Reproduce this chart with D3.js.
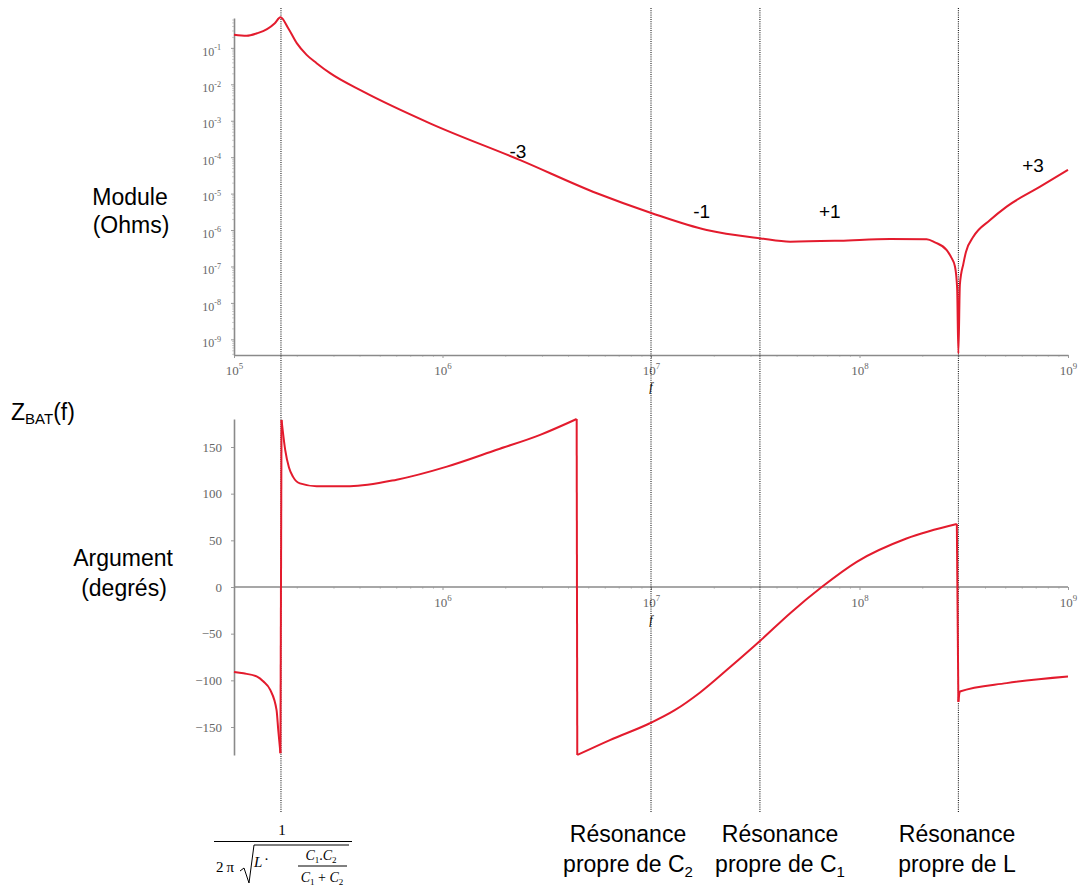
<!DOCTYPE html>
<html lang="fr">
<head>
	<meta charset="UTF-8">
	<title>Z_BAT(f) : module et argument</title>
	<script src="https://cdn.jsdelivr.net/npm/d3@7/dist/d3.min.js"></script>
	<style>
		body { margin: 0; background: #fff; }
		.lbl { font-family: Arial, "Liberation Sans", sans-serif; fill: #000; }
		.math { font-family: "Liberation Serif", "Times New Roman", serif; fill: #000; }
		.axis path { stroke: #8a8a8a; stroke-width: 1.6; fill: none; }
		.axis line { stroke: #9a9a9a; }
		.minor line { stroke: #d0d0d0; }
		.minor path { display: none; }
		.axis text { font-family: "Liberation Serif", "Times New Roman", serif; fill: #666; }
	</style>
</head>
<body>
	<div id="container"></div>
	<script>
		// module |Z| (ohms) vs frequency (Hz)
		var modFreq = [1.00e5, 1.15e5, 1.29e5, 1.44e5, 1.57e5, 1.67e5, 1.82e5, 2.00e5, 2.23e5, 2.49e5,
			2.89e5, 4.17e5, 8.71e5, 2.36e6, 5.50e6, 1.01e7, 1.85e7, 3.36e7, 4.65e7, 8.05e7,
			1.40e8, 2.10e8, 2.30e8, 2.62e8, 2.75e8, 2.87e8, 2.94e8, 2.98e8, 3.03e8, 3.15e8,
			3.24e8, 3.52e8, 4.23e8, 5.08e8, 7.35e8, 1.00e9];
		var modOhm = [0.229, 0.214, 0.251, 0.327, 0.477, 0.692, 0.347, 0.135, 0.0643, 0.038,
			0.0202, 6.3e-3, 8.5e-4, 8.3e-5, 1.02e-5, 2.9e-6, 1.0e-6, 5.9e-7, 4.8e-7, 5.1e-7,
			5.7e-7, 5.6e-7, 4.6e-7, 2.8e-7, 1.8e-7, 1.0e-7, 2.5e-8, 4.1e-10, 3.2e-8, 1.2e-7,
			2.5e-7, 6.6e-7, 1.88e-6, 4.4e-6, 1.55e-5, 4.5e-5];

		// argument (degrees), split in branches at the +/-180 jumps
		var phaseFreq = [1.00e5, 1.11e5, 1.29e5, 1.38e5, 1.49e5, 1.60e5, 1.63e5, 1.67e5,
			1.69e5, 1.76e5, 1.835e5, 1.92e5, 2.07e5, 2.49e5, 3.60e5, 6.03e5, 1.05e6, 1.82e6, 2.94e6, 4.40e6,
			4.43e6, 6.35e6, 9.88e6, 1.30e7, 1.72e7, 2.39e7, 3.36e7, 4.65e7, 6.59e7, 9.70e7, 1.68e8, 2.93e8,
			2.98e8, 3.03e8, 5.08e8, 1.00e9];
		var phaseDeg = [-91, -92.5, -96, -101, -110, -132, -153, -178,
			179, 147, 128, 118, 111, 108, 108, 115, 129, 147, 163, 180,
			-180, -164, -146, -132, -113, -86, -57, -28, 0, 27, 52, 67.5,
			-123, -112, -103, -96];
		var phaseBranch = [0, 0, 0, 0, 0, 0, 0, 0,
			1, 1, 1, 1, 1, 1, 1, 1, 1, 1, 1, 1,
			2, 2, 2, 2, 2, 2, 2, 2, 2, 2, 2, 2,
			3, 3, 3, 3];

		// resonance frequencies (dotted lines)
		var markerFreq = [1.68e5, 1.0e7, 3.33e7, 2.98e8];

		// slope annotations on the module curve
		var slopeText = ["-3", "-1", "+1", "+3"];
		var slopeFreq = [2.3e6, 1.75e7, 7.2e7, 6.8e8];
		var slopeOhm = [9.5e-5, 2.1e-6, 2.1e-6, 4.0e-5];

		var freqTicks = [1e5, 1e6, 1e7, 1e8, 1e9];
		var modTicks = [1e-1, 1e-2, 1e-3, 1e-4, 1e-5, 1e-6, 1e-7, 1e-8, 1e-9];
		var phaseTicks = [-150, -100, -50, 0, 50, 100, 150];

		var width = 1083, height = 892;
		var svg = d3.select("#container").append("svg")
			.attr("width", width)
			.attr("height", height);

		var x = d3.scaleLog().domain([1e5, 1e9]).range([234, 1068]);
		var yMod = d3.scaleLog().domain([Math.pow(10, -9.43), Math.pow(10, -0.18)]).range([355, 18]);
		var yPh = d3.scaleLinear().domain([-180, 180]).range([755, 419]);

		var minorFreq = [];
		for (var e = 5; e < 9; e++)
			for (var m = 2; m < 10; m++) minorFreq.push(m * Math.pow(10, e));
		var minorMod = [];
		for (var e2 = -10; e2 < 0; e2++)
			for (var m2 = 2; m2 < 10; m2++) {
				var v = m2 * Math.pow(10, e2);
				if (v > yMod.domain()[0] && v < yMod.domain()[1]) minorMod.push(v);
			}

		function powLabel(sel, size) {
			sel.selectAll(".tick text").each(function(d) {
				var t = d3.select(this).text(null).attr("font-size", size);
				t.append("tspan").text("10");
				t.append("tspan").attr("dy", -size * 0.45).attr("font-size", size * 0.68)
					.text(Math.round(Math.log10(d)));
			});
		}

		// ---- module plot ----
		svg.append("g").attr("class", "minor")
			.attr("transform", "translate(0,355)")
			.call(d3.axisBottom(x).tickValues(minorFreq).tickFormat("").tickSize(2).tickSizeOuter(0));
		svg.append("g").attr("class", "minor")
			.attr("transform", "translate(234,0)")
			.call(d3.axisLeft(yMod).tickValues(minorMod).tickFormat("").tickSize(2).tickSizeOuter(0));

		var gx1 = svg.append("g").attr("class", "axis")
			.attr("transform", "translate(0,355)")
			.call(d3.axisBottom(x).tickValues(freqTicks).tickSize(3).tickSizeOuter(0).tickPadding(8));
		powLabel(gx1, 13);

		var gy1 = svg.append("g").attr("class", "axis")
			.attr("transform", "translate(234,0)")
			.call(d3.axisLeft(yMod).tickValues(modTicks).tickSize(3).tickSizeOuter(0).tickPadding(10));
		powLabel(gy1, 12);
		gy1.selectAll(".tick text").attr("dy", "0.6em");

		svg.append("text").attr("class", "math")
			.attr("x", x(1e7)).attr("y", 391)
			.attr("text-anchor", "middle").attr("font-size", 12).attr("font-style", "italic")
			.attr("fill", "#666").text("f");

		// ---- argument plot ----
		svg.append("g").attr("class", "minor")
			.attr("transform", "translate(0," + yPh(0) + ")")
			.call(d3.axisBottom(x).tickValues(minorFreq).tickFormat("").tickSize(2).tickSizeOuter(0));

		var gx2 = svg.append("g").attr("class", "axis")
			.attr("transform", "translate(0," + yPh(0) + ")")
			.call(d3.axisBottom(x).tickValues(freqTicks.slice(1)).tickSize(3).tickSizeOuter(0).tickPadding(8));
		powLabel(gx2, 13);
		gx2.select(".domain").attr("d", "M" + x(1e5) + ",0H" + x(1e9));

		var gy2 = svg.append("g").attr("class", "axis")
			.attr("transform", "translate(234,0)")
			.call(d3.axisLeft(yPh).tickValues(phaseTicks).tickSize(3).tickSizeOuter(0).tickPadding(9));
		gy2.selectAll(".tick text").attr("font-size", 13);

		svg.append("text").attr("class", "math")
			.attr("x", x(1e7)).attr("y", 624)
			.attr("text-anchor", "middle").attr("font-size", 12).attr("font-style", "italic")
			.attr("fill", "#666").text("f");

		// ---- resonance markers ----
		svg.selectAll(".marker")
			.data(markerFreq)
			.enter().append("line")
				.attr("class", "marker")
				.attr("x1", function(d) { return x(d); })
				.attr("x2", function(d) { return x(d); })
				.attr("y1", 8)
				.attr("y2", 813)
				.attr("stroke", "#000")
				.attr("stroke-width", 1)
				.attr("stroke-dasharray", "1,1.2");

		// ---- curves ----
		var red = "#e31b2d";
		var modData = modFreq.map(function(f, i) { return [f, modOhm[i]]; });
		var modLine = d3.line()
			.x(function(d) { return x(d[0]); })
			.y(function(d) { return yMod(d[1]); })
			.curve(d3.curveMonotoneX);
		svg.append("path")
			.datum(modData)
			.attr("d", modLine)
			.attr("fill", "none")
			.attr("stroke", red)
			.attr("stroke-width", 2);

		var phData = phaseFreq.map(function(f, i) { return { f: f, v: phaseDeg[i], b: phaseBranch[i] }; });
		var branches = Array.from(d3.group(phData, function(d) { return d.b; }).values());
		var phLine = d3.line()
			.x(function(d) { return x(d.f); })
			.y(function(d) { return yPh(d.v); })
			.curve(d3.curveMonotoneX);
		svg.selectAll(".branch")
			.data(branches)
			.enter().append("path")
				.attr("class", "branch")
				.attr("d", phLine)
				.attr("fill", "none")
				.attr("stroke", red)
				.attr("stroke-width", 2);
		// vertical jumps between branches
		var jumps = [];
		for (var i = 1; i < branches.length; i++)
			jumps.push([branches[i - 1][branches[i - 1].length - 1], branches[i][0]]);
		svg.selectAll(".jump")
			.data(jumps)
			.enter().append("path")
				.attr("class", "jump")
				.attr("d", d3.line().x(function(d) { return x(d.f); }).y(function(d) { return yPh(d.v); }))
				.attr("fill", "none")
				.attr("stroke", red)
				.attr("stroke-width", 2);

		// ---- slope labels ----
		svg.selectAll(".slope")
			.data(slopeText)
			.enter().append("text")
				.attr("class", "lbl slope")
				.attr("x", function(d, i) { return x(slopeFreq[i]); })
				.attr("y", function(d, i) { return yMod(slopeOhm[i]); })
				.attr("text-anchor", "middle")
				.attr("font-size", 19)
				.text(function(d) { return d; });

		// ---- left titles ----
		var left = svg.append("g").attr("class", "lbl").attr("font-size", 23).attr("text-anchor", "middle");
		left.append("text").attr("x", 130).attr("y", 205).text("Module");
		left.append("text").attr("x", 131).attr("y", 233).text("(Ohms)");
		left.append("text").attr("x", 123).attr("y", 566).text("Argument");
		left.append("text").attr("x", 124).attr("y", 596).text("(degrés)");

		var zt = svg.append("text").attr("class", "lbl").attr("x", 11).attr("y", 420).attr("font-size", 23);
		zt.append("tspan").text("Z");
		zt.append("tspan").attr("font-size", 15).attr("dy", 4).text("BAT");
		zt.append("tspan").attr("dy", -4).text("(f)");

		// ---- resonance captions ----
		var captions = [
			{ cx: 628, line2: "propre de C", sub: "2" },
			{ cx: 780, line2: "propre de C", sub: "1" },
			{ cx: 957, line2: "propre de L", sub: "" }
		];
		var cap = svg.selectAll(".cap")
			.data(captions)
			.enter().append("g")
				.attr("class", "lbl cap")
				.attr("font-size", 23)
				.attr("text-anchor", "middle");
		cap.append("text").attr("x", function(d) { return d.cx; }).attr("y", 842).text("Résonance");
		var l2 = cap.append("text").attr("x", function(d) { return d.cx; }).attr("y", 872);
		l2.append("tspan").text(function(d) { return d.line2; });
		l2.append("tspan").attr("font-size", 15).attr("dy", 5).text(function(d) { return d.sub; });

		// ---- formula 1 / (2 pi sqrt(L . C1.C2 / (C1 + C2))) ----
		var fm = svg.append("g").attr("class", "math");
		fm.append("text").attr("x", 282).attr("y", 835).attr("font-size", 15)
			.attr("text-anchor", "middle").text("1");
		fm.append("line").attr("x1", 214).attr("x2", 352).attr("y1", 841.5).attr("y2", 841.5)
			.attr("stroke", "#000").attr("stroke-width", 1);
		fm.append("text").attr("x", 216).attr("y", 872).attr("font-size", 15)
			.text("2\u2009\u03c0");
		fm.append("path")
			.attr("d", "M240,871 L244,868 L249,883 L254,845 L349,845")
			.attr("fill", "none").attr("stroke", "#000").attr("stroke-width", 1);
		fm.append("text").attr("x", 254).attr("y", 867).attr("font-size", 15)
			.attr("font-style", "italic").text("L");
		fm.append("text").attr("x", 264).attr("y", 864).attr("font-size", 15).text("\u00b7");
		var num = fm.append("text").attr("x", 321).attr("y", 860).attr("font-size", 14)
			.attr("text-anchor", "middle");
		num.append("tspan").attr("font-style", "italic").text("C");
		num.append("tspan").attr("font-size", 9).attr("dy", 3).text("1");
		num.append("tspan").attr("dy", -3).text(".");
		num.append("tspan").attr("font-style", "italic").text("C");
		num.append("tspan").attr("font-size", 9).attr("dy", 3).text("2");
		fm.append("line").attr("x1", 298).attr("x2", 347).attr("y1", 866).attr("y2", 866)
			.attr("stroke", "#000").attr("stroke-width", 1);
		var den = fm.append("text").attr("x", 322).attr("y", 882).attr("font-size", 14)
			.attr("text-anchor", "middle");
		den.append("tspan").attr("font-style", "italic").text("C");
		den.append("tspan").attr("font-size", 9).attr("dy", 3).text("1");
		den.append("tspan").attr("dy", -3).text(" + ");
		den.append("tspan").attr("font-style", "italic").text("C");
		den.append("tspan").attr("font-size", 9).attr("dy", 3).text("2");
	</script>
</body>
</html>
